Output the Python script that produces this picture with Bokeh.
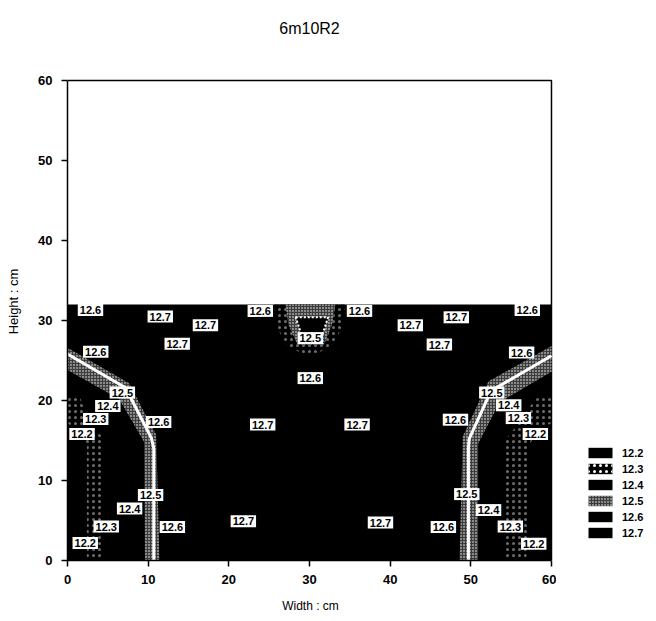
import math
from bokeh.plotting import figure
from bokeh.layouts import row
from bokeh.models import Legend, LegendItem, Range1d, FixedTicker, Label
from bokeh.embed import file_html
from bokeh.resources import INLINE
from bokeh.core.properties import value

FONT = "Liberation Sans"

# ---- chart text and axes -------------------------------------------------
title_text = "6m10R2"
x_label = "Width : cm"
y_label = "Height : cm"
x_ticks = [0, 10, 20, 30, 40, 50, 60]
y_ticks = [0, 10, 20, 30, 40, 50, 60]
axis_extent = [0, 60]

# measured cross-section (cm)
field_x = [0, 60]
field_y = [0, 32]

# contour levels shown in the key
levels = ["12.2", "12.3", "12.4", "12.5", "12.6", "12.7"]

# contour labels: position (cm) and level
lab_x = [2.85, 11.5, 17.1, 13.6, 3.5, 6.8, 5.0, 3.5, 1.8, 11.3, 10.3, 7.7, 4.8, 2.2, 13.0,
         23.9, 36.2, 30.1, 30.1, 24.2, 35.9, 21.8, 38.8,
         57.0, 48.2, 42.5, 46.1, 56.3, 52.6, 54.7, 55.9, 58.0, 48.1, 49.5, 52.2, 54.9, 57.8, 46.6]
lab_y = [31.3, 30.5, 29.4, 27.1, 26.1, 21.0, 19.3, 17.7, 15.8, 17.3, 8.2, 6.5, 4.25, 2.2, 4.2,
         31.2, 31.2, 27.8, 22.8, 17.0, 17.0, 4.9, 4.75,
         31.3, 30.4, 29.4, 27.0, 26.0, 21.0, 19.4, 17.8, 15.8, 17.6, 8.3, 6.3, 4.25, 2.1, 4.2]
lab_text = ["12.6", "12.7", "12.7", "12.7", "12.6", "12.5", "12.4", "12.3", "12.2", "12.6",
            "12.5", "12.4", "12.3", "12.2", "12.6",
            "12.6", "12.6", "12.5", "12.6", "12.7", "12.7", "12.7", "12.7",
            "12.6", "12.7", "12.7", "12.7", "12.6", "12.5", "12.4", "12.3", "12.2", "12.6",
            "12.5", "12.4", "12.3", "12.2", "12.6"]

# 12.5 isolines along the side walls
iso_left_x = [0.0, 7.2, 10.4, 10.7, 10.7]
iso_left_y = [25.8, 21.6, 15.3, 14.0, 0.0]
iso_right_x = [60.0, 52.5, 49.8, 49.7, 49.7]
iso_right_y = [25.6, 21.2, 15.2, 14.0, 0.0]

# 12.5 band outlines
band125_left_x = [0.0, 7.6, 11.0, 11.4, 9.6, 9.5, 6.4, 0.0]
band125_left_y = [26.6, 22.2, 15.7, 0.0, 0.0, 14.8, 20.2, 23.8]
band125_right_x = [60.0, 52.2, 49.0, 48.6, 50.9, 50.9, 53.6, 60.0]
band125_right_y = [26.8, 22.4, 15.5, 0.0, 0.0, 14.6, 19.8, 23.6]

# 12.3 band outlines
band123_left_x = [2.4, 4.3, 4.3, 3.0, 1.5, 0.0, 0.0, 1.2, 2.4]
band123_left_y = [0.0, 0.0, 15.5, 17.0, 20.5, 20.5, 17.2, 16.2, 14.5]
band123_right_x = [54.0, 56.9, 57.2, 58.8, 60.0, 60.0, 58.2, 55.8, 54.2]
band123_right_y = [0.0, 0.0, 14.5, 16.5, 17.2, 20.5, 20.5, 17.0, 15.0]

# cool pocket under the top centre
pocket_outer_x = [25.6, 34.4, 34.0, 32.6, 30.0, 27.4, 26.0]
pocket_outer_y = [32.0, 32.0, 29.0, 26.6, 25.6, 26.6, 29.0]
pocket_inner_x = [27.0, 33.2, 32.8, 31.8, 28.5, 27.4]
pocket_inner_y = [32.0, 32.0, 29.5, 27.0, 27.0, 29.5]
pocket_core_x = [28.3, 32.3, 31.5, 29.1]
pocket_core_y = [30.4, 30.4, 27.9, 27.9]

H = 621

# ---- y-axis title strip ---------------------------------------------------
p_lab = figure(width=30, height=H, output_backend="svg", toolbar_location=None,
               x_axis_type=None, y_axis_type=None, min_border=0,
               x_range=Range1d(0, 30), y_range=Range1d(0, H))
p_lab.outline_line_color = None
p_lab.grid.visible = False
p_lab.add_layout(Label(x=13, y=259, x_units="screen", y_units="screen", text=y_label,
                       text_font=FONT, text_font_size="13px", text_color="black",
                       text_align="center", text_baseline="middle", angle=math.pi / 2))

# ---- main plot --------------------------------------------------------------
p = figure(width=526, height=H, output_backend="svg", toolbar_location=None,
           x_range=Range1d(0, 60.25), y_range=Range1d(0, 70),
           min_border_left=37, min_border_right=3,
           min_border_top=0, min_border_bottom=61)
p.xgrid.visible = False
p.ygrid.visible = False
p.outline_line_color = None
p.background_fill_color = "white"

for ax, ticks in ((p.xaxis, x_ticks), (p.yaxis, y_ticks)):
    ax.ticker = FixedTicker(ticks=ticks)
    ax.bounds = tuple(axis_extent)
    ax.minor_tick_line_color = None
    ax.major_tick_in = 0
    ax.major_tick_out = 6
    ax.major_tick_line_width = 1.5
    ax.axis_line_width = 1.5
    ax.major_label_text_font = FONT
    ax.major_label_text_font_style = "bold"
    ax.major_label_text_font_size = "13px"
    ax.major_label_text_color = "black"
p.yaxis.major_label_standoff = 9
p.xaxis.major_label_standoff = 8
p.xaxis.axis_label = x_label
p.xaxis.axis_label_text_font = FONT
p.xaxis.axis_label_text_font_size = "12px"
p.xaxis.axis_label_text_font_style = "normal"
p.xaxis.axis_label_text_color = "black"
p.xaxis.axis_label_standoff = 12

# upper and right sides of the plot box
p.line(x=[axis_extent[0], axis_extent[1], axis_extent[1]],
       y=[axis_extent[1], axis_extent[1], axis_extent[0]],
       line_color="black", line_width=1.5)

p.add_layout(Label(x=30, y=66.5, text=title_text, text_font=FONT, text_font_size="16px",
                   text_color="black", text_align="center", text_baseline="middle"))

# field background
p.quad(left=[field_x[0]], right=[field_x[1]], bottom=[field_y[0]], top=[field_y[1]],
       fill_color="black", line_color=None)

speckle_dense = dict(fill_color="#3c3c3c", line_color=None, hatch_pattern=".",
                     hatch_color="white", hatch_scale=3, hatch_weight=1)
speckle_sparse = dict(fill_color="black", line_color=None, hatch_pattern=".",
                      hatch_color="#6e6e6e", hatch_scale=6, hatch_weight=1)

p.patches(xs=[band123_left_x, band123_right_x, pocket_outer_x],
          ys=[band123_left_y, band123_right_y, pocket_outer_y], **speckle_sparse)
p.patches(xs=[band125_left_x, band125_right_x, pocket_inner_x],
          ys=[band125_left_y, band125_right_y, pocket_inner_y], **speckle_dense)
p.patch(pocket_core_x, pocket_core_y, fill_color="black", line_color="white",
        line_width=2, line_dash="2 2")

p.multi_line(xs=[iso_left_x, iso_right_x], ys=[iso_left_y, iso_right_y],
             line_color="white", line_width=3)

p.text(x=lab_x, y=lab_y, text=lab_text, text_font=value(FONT), text_font_style="bold",
       text_font_size="11px", text_color="black", text_align="center",
       text_baseline="middle", background_fill_color="white", padding=2)

# ---- key ------------------------------------------------------------------
p_key = figure(width=100, height=H, output_backend="svg", toolbar_location=None,
               x_axis_type=None, y_axis_type=None, min_border=0,
               x_range=Range1d(0, 1), y_range=Range1d(0, 1))
p_key.outline_line_color = None
p_key.grid.visible = False

key_styles = {
    "12.2": dict(fill_color="black"),
    "12.3": dict(fill_color="black", hatch_pattern=".", hatch_color="white",
                 hatch_scale=6, hatch_weight=1),
    "12.4": dict(fill_color="black"),
    "12.5": dict(fill_color="#3c3c3c", hatch_pattern=".", hatch_color="white",
                 hatch_scale=3, hatch_weight=1),
    "12.6": dict(fill_color="black"),
    "12.7": dict(fill_color="black"),
}
items = []
for lv in levels:
    r = p_key.quad(left=[-3], right=[-2], bottom=[-3], top=[-2], line_color=None,
                   **key_styles[lv])
    items.append(LegendItem(label=lv, renderers=[r]))

legend = Legend(items=items, location=(29, 21), orientation="vertical",
                glyph_width=30, glyph_height=13, spacing=3, padding=0, margin=0,
                label_standoff=7, label_text_font=FONT, label_text_font_style="bold",
                label_text_font_size="11px", label_text_color="black", label_height=13,
                border_line_alpha=0, background_fill_alpha=0)
p_key.add_layout(legend, "center")

open("out.html", "w").write(file_html(row(p_lab, p, p_key), INLINE))
